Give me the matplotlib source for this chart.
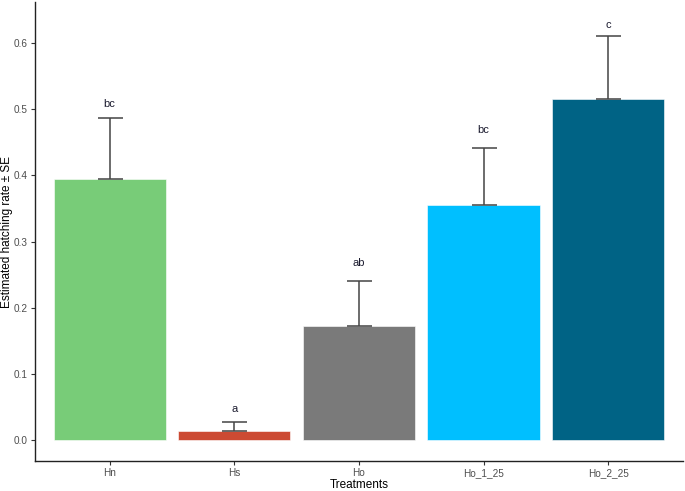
import numpy as np
import matplotlib
matplotlib.use("Agg")
import matplotlib.pyplot as plt

plt.rcParams["font.family"] = ["Liberation Sans", "DejaVu Sans"]

# valeurs
traitements = ["Hn", "Hs", "Ho", "Ho_1_25", "Ho_2_25"]
taux = [0.395, 0.0136, 0.172, 0.355, 0.515]
se = [0.092, 0.0134, 0.068, 0.087, 0.095]
lettres = ["bc", "a", "ab", "bc", "c"]
pos_lettres = [0.508, 0.047, 0.268, 0.468, 0.627]
couleurs = ["#78CC78", "#CC4A33", "#7A7A7A", "#00BFFF", "#006385"]

fig = plt.figure(figsize=(6.85, 4.91), dpi=100)
ax = fig.add_axes([0.051, 0.061, 0.946, 0.935])

x = np.arange(len(traitements))
ax.bar(x, taux, width=0.9, color=couleurs, edgecolor="white", linewidth=0.4, zorder=2)
ax.errorbar(x, taux, yerr=[np.zeros(len(se)), se], fmt="none", ecolor="#444444",
            elinewidth=1.1, capsize=9, capthick=1.1, zorder=3)

for xi, lab, yl in zip(x, lettres, pos_lettres):
    ax.text(xi, yl, lab, ha="center", va="center", fontsize=8, color="#1a1a2e")

ax.set_xlim(-0.6, 4.6)
ax.set_ylim(-0.0317, 0.662)
ax.set_xticks(x)
ax.set_xticklabels(traitements)
ax.set_yticks([0.0, 0.1, 0.2, 0.3, 0.4, 0.5, 0.6])
ax.set_yticklabels(["0.0", "0.1", "0.2", "0.3", "0.4", "0.5", "0.6"])
ax.tick_params(colors="#333333", labelsize=7.2, length=3, width=0.8, pad=2)
ax.tick_params(axis="both", labelcolor="#4D4D4D")

for s in ["top", "right"]:
    ax.spines[s].set_visible(False)
for s in ["left", "bottom"]:
    ax.spines[s].set_linewidth(1.0)
    ax.spines[s].set_color("#222222")

ax.set_xlabel("Treatments", fontsize=8.5, labelpad=1)
ax.set_ylabel("Estimated hatching rate ± SE", fontsize=8.5)
ax.yaxis.set_label_coords(-0.0335, 0.5)

fig.savefig("out.png", dpi=100)
